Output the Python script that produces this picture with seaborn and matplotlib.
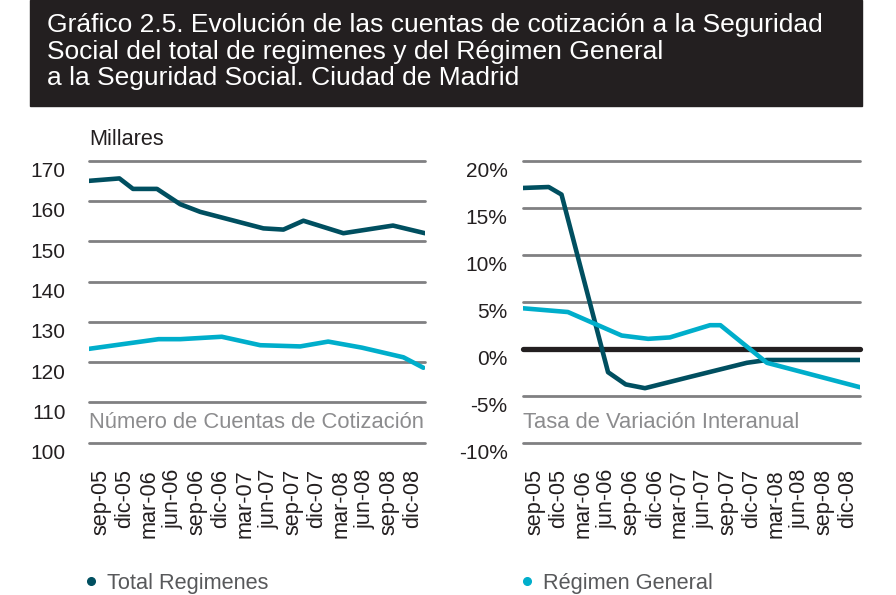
import numpy as np
import pandas as pd
import seaborn as sns
import matplotlib
matplotlib.use("Agg")
import matplotlib.pyplot as plt
from matplotlib.patches import Rectangle
from matplotlib.lines import Line2D
from matplotlib.transforms import ScaledTranslation

# ---------------- data ----------------
tick_labels = ["sep-05", "dic-05", "mar-06", "jun-06", "sep-06", "dic-06", "mar-07",
               "jun-07", "sep-07", "dic-07", "mar-08", "jun-08", "sep-08", "dic-08"]

# left panel: number of accounts (thousands), x in months from start of axis
total_left_x = [0, 3.8, 5.5, 8.5, 11.4, 13.9, 21.8, 24.3, 26.8, 31.8, 38.0, 42]
total_left_y = [165.0, 165.6, 163.0, 163.0, 159.2, 157.3, 153.2, 152.9, 155.1, 152.0, 153.9, 152.0]
general_left_x = [0, 8.7, 11.4, 16.6, 21.4, 26.4, 29.9, 34.1, 39.3, 41.8]
general_left_y = [123.3, 125.7, 125.7, 126.3, 124.2, 123.9, 125.1, 123.6, 121.2, 118.6]

# right panel: year-on-year rate (%)
total_right_x = [0, 3.2, 4.8, 10.6, 12.8, 15.2, 20.8, 27.9, 30.4, 42]
total_right_y = [17.1, 17.2, 16.4, -2.5, -3.8, -4.2, -3.0, -1.5, -1.2, -1.2]
general_right_x = [0, 5.6, 12.3, 15.6, 18.3, 23.3, 24.6, 30.4, 42]
general_right_y = [4.3, 3.9, 1.4, 1.05, 1.2, 2.5, 2.5, -1.5, -4.1]

left_yticks = [100, 110, 120, 130, 140, 150, 160, 170]
right_yticks = [-10, -5, 0, 5, 10, 15, 20]
right_ylabels = ["-10%", "-5%", "0%", "5%", "10%", "15%", "20%"]

title_lines = ["Gráfico 2.5. Evolución de las cuentas de cotización a la Seguridad",
               "Social del total de regimenes y del Régimen General",
               "a la Seguridad Social. Ciudad de Madrid"]

# ---------------- style ----------------
sns.set_theme(style="white")
plt.rcParams["font.family"] = ["Liberation Sans", "DejaVu Sans"]

DARK = "#004f60"
LIGHT = "#00aecb"
GRID = "#808082"
TXT = "#231f20"
NOTE = "#8c8c8e"

W, H = 896, 595
fig = plt.figure(figsize=(W / 100, H / 100), dpi=100)
fig.patch.set_facecolor("white")

def fx(px):
    return px / W

def fy(py):
    return 1 - py / H

# title box
fig.patches.append(Rectangle((fx(30), fy(106)), fx(862) - fx(30), fy(0) - fy(106),
                             transform=fig.transFigure, color="#231f20", zorder=0))
for i, line in enumerate(title_lines):
    fig.text(fx(47), fy(32 + 26.5 * i), line, color="white", fontsize=19,
             va="baseline", ha="left")

ax1 = fig.add_axes([fx(89), fy(442.7), fx(425) - fx(89), fy(160.7) - fy(442.7)])
ax2 = fig.add_axes([fx(523), fy(442.7), fx(860) - fx(523), fy(160.7) - fy(442.7)])

df_tl = pd.DataFrame({"x": total_left_x, "y": total_left_y})
df_gl = pd.DataFrame({"x": general_left_x, "y": general_left_y})
df_tr = pd.DataFrame({"x": total_right_x, "y": total_right_y})
df_gr = pd.DataFrame({"x": general_right_x, "y": general_right_y})

LW = 3.3
sns.lineplot(data=df_tl, x="x", y="y", ax=ax1, color=DARK, lw=LW, sort=False, zorder=5)
sns.lineplot(data=df_gl, x="x", y="y", ax=ax1, color=LIGHT, lw=LW, sort=False, zorder=5)
sns.lineplot(data=df_tr, x="x", y="y", ax=ax2, color=DARK, lw=LW, sort=False, zorder=5)
sns.lineplot(data=df_gr, x="x", y="y", ax=ax2, color=LIGHT, lw=LW, sort=False, zorder=5)

for ax in (ax1, ax2):
    ax.set_xlim(0, 42)
    ax.set_xlabel("")
    ax.set_ylabel("")
    for s in ax.spines.values():
        s.set_visible(False)
    ax.set_facecolor("none")
    ax.set_xticks([1.5 + 3 * k for k in range(len(tick_labels))])
    ax.set_xticklabels(tick_labels, rotation=90, fontsize=15.6, color=TXT, va="top", ha="center")
    ax.tick_params(axis="both", length=0)
    ax.tick_params(axis="x", pad=19)

ax1.set_ylim(100, 170)
ax1.set_yticks(left_yticks)
ax1.set_yticklabels([str(v) for v in left_yticks], fontsize=15, color=TXT)
ax1.tick_params(axis="y", pad=17)
for v in left_yticks:
    ax1.axhline(v, color=GRID, lw=2.0, zorder=1, clip_on=False)

ax2.set_ylim(-10, 20)
ax2.set_yticks(right_yticks)
ax2.set_yticklabels(right_ylabels, fontsize=15, color=TXT)
ax2.tick_params(axis="y", pad=11)
for v in right_yticks:
    if v == 0:
        ax2.axhline(v, color="#231f20", lw=3.8, zorder=2, clip_on=False)
    else:
        ax2.axhline(v, color=GRID, lw=2.0, zorder=1, clip_on=False)

off = ScaledTranslation(0, -9 / 100, fig.dpi_scale_trans)
for ax in (ax1, ax2):
    for lbl in ax.get_yticklabels():
        lbl.set_transform(lbl.get_transform() + off)

ax1.text(0, 0.073, "Número de Cuentas de Cotización", transform=ax1.transAxes,
         color=NOTE, fontsize=15.8, va="center", ha="left")
ax2.text(0, 0.073, "Tasa de Variación Interanual", transform=ax2.transAxes,
         color=NOTE, fontsize=15.8, va="center", ha="left")
fig.text(fx(89), fy(139), "Millares", color=TXT, fontsize=15.6, va="center", ha="left")

# legends
h1 = Line2D([], [], marker="o", ls="", color=DARK, markersize=5.5)
h2 = Line2D([], [], marker="o", ls="", color=LIGHT, markersize=5.5)
for h, lab, xpx in [(h1, "Total Regimenes", 86), (h2, "Régimen General", 522)]:
    leg = fig.legend([h], [lab], loc="center left", bbox_to_anchor=(fx(xpx), fy(583)),
                     frameon=False, fontsize=15.7, handlelength=0.5, handletextpad=0.45,
                     borderpad=0, borderaxespad=0)
    for t in leg.get_texts():
        t.set_color("#58595b")

fig.savefig("out.png", dpi=100)
